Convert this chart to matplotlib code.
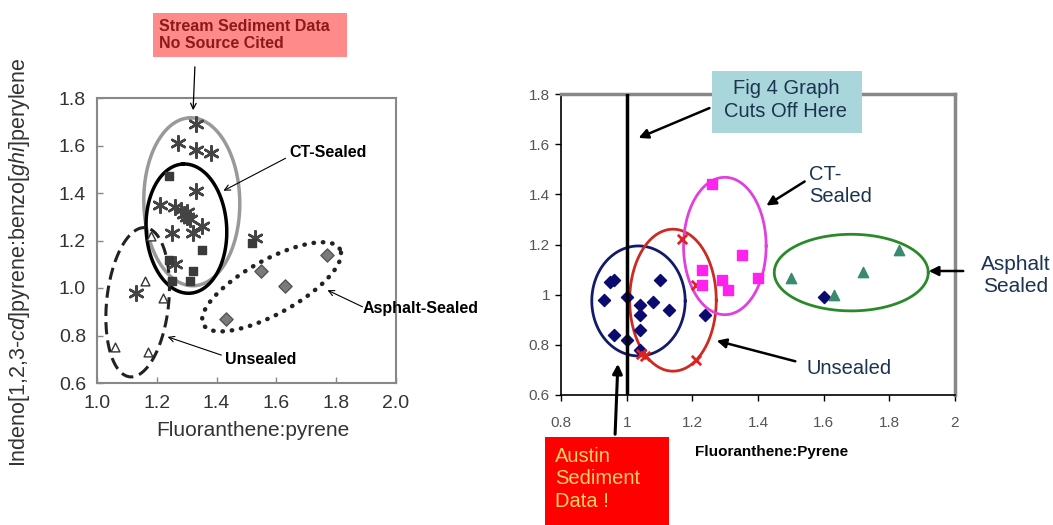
import numpy as np
import matplotlib
matplotlib.use("Agg")
import matplotlib.pyplot as plt
from matplotlib.patches import Rectangle

plt.rcParams['font.family'] = ['Liberation Sans', 'DejaVu Sans']
plt.rcParams['mathtext.fontset'] = 'custom'
plt.rcParams['mathtext.it'] = 'Liberation Sans:italic'
plt.rcParams['mathtext.rm'] = 'Liberation Sans'

# ---------------- left panel data (published figure) ----------------
stream_x = [1.33, 1.27, 1.33, 1.38, 1.33, 1.21, 1.26, 1.29, 1.31, 1.28, 1.30,
            1.35, 1.25, 1.32, 1.26, 1.13, 1.53, 1.30]
stream_y = [1.69, 1.61, 1.58, 1.57, 1.41, 1.35, 1.34, 1.31, 1.29, 1.33, 1.30,
            1.26, 1.23, 1.23, 1.10, 0.98, 1.21, 1.32]
ct_x = [1.24, 1.35, 1.24, 1.32, 1.31, 1.25, 1.52]
ct_y = [1.47, 1.16, 1.12, 1.07, 1.03, 1.03, 1.19]
unseal_x = [1.18, 1.16, 1.22, 1.06, 1.17]
unseal_y = [1.22, 1.03, 0.96, 0.75, 0.73]
asph_x = [1.55, 1.77, 1.63, 1.43]
asph_y = [1.07, 1.14, 1.01, 0.87]

# ---------------- right panel data (Austin sediment) ----------------
austin_x = [0.95, 0.96, 0.93, 1.00, 0.96, 1.00, 1.04, 1.04, 1.04, 1.04, 1.08,
            1.10, 1.13, 1.24, 1.60]
austin_y = [1.05, 1.06, 0.98, 0.99, 0.84, 0.82, 0.96, 0.92, 0.86, 0.78, 0.97,
            1.06, 0.94, 0.92, 0.99]
r_unseal_x = [1.17, 1.21, 1.055, 1.21, 1.045]
r_unseal_y = [1.22, 1.04, 0.755, 0.74, 0.765]
r_ct_x = [1.26, 1.35, 1.23, 1.23, 1.29, 1.31, 1.40]
r_ct_y = [1.44, 1.16, 1.10, 1.04, 1.06, 1.02, 1.065]
r_asph_x = [1.50, 1.63, 1.72, 1.83]
r_asph_y = [1.065, 1.00, 1.09, 1.18]

ticks_y = [0.6, 0.8, 1.0, 1.2, 1.4, 1.6, 1.8]
ticks_x_left = [1.0, 1.2, 1.4, 1.6, 1.8, 2.0]
ticks_x_right = [0.8, 1.0, 1.2, 1.4, 1.6, 1.8, 2.0]

W, H = 1053, 525
fig = plt.figure(figsize=(W / 100, H / 100), dpi=100)


def F(x, y):
    # pixel position from top-left -> figure fraction
    return (x / W, 1 - y / H)


def ellipse(ax, cx, cy, a, b, ang, **kw):
    # a, b semi-axes in pixels, ang in degrees on screen
    x0, x1 = ax.get_xlim()
    y0, y1 = ax.get_ylim()
    ppx = ax.bbox.width / (x1 - x0)
    ppy = ax.bbox.height / (y1 - y0)
    t = np.linspace(0, 2 * np.pi, 200)
    th = np.radians(ang)
    px = a * np.cos(t) * np.cos(th) - b * np.sin(t) * np.sin(th)
    py = a * np.cos(t) * np.sin(th) + b * np.sin(t) * np.cos(th)
    ax.plot(cx + px / ppx, cy + py / ppy, clip_on=False, **kw)


def arrow(p_from, p_to, style, lw, color='black', ms=10):
    fig.add_artist(matplotlib.patches.FancyArrowPatch(
        F(*p_from), F(*p_to), transform=fig.transFigure, arrowstyle=style,
        mutation_scale=ms, lw=lw, color=color))


# ================= left panel =================
ax1 = fig.add_axes([97 / W, 1 - 383 / H, 299 / W, 285 / H])
ax1.set_xlim(1.0, 2.0)
ax1.set_ylim(0.6, 1.8)
ax1.set_xticks(ticks_x_left)
ax1.set_xticklabels(["%.1f" % v for v in ticks_x_left])
ax1.set_yticks(ticks_y)
ax1.set_yticklabels(["%.1f" % v for v in ticks_y])
ax1.tick_params(direction='in', length=4, width=1, color='#888888',
                labelsize=14, labelcolor='#333333')
ax1.tick_params(axis='y', pad=8)
ax1.tick_params(axis='x', pad=9)
for s in ax1.spines.values():
    s.set_color('#888888')
    s.set_linewidth(1.5)

ax1.scatter(stream_x, stream_y, marker=(6, 2, 0), s=110, color='#444444',
            linewidths=1.8, zorder=3)
ax1.scatter(ct_x, ct_y, marker='s', s=40, color='#3a3a3a', zorder=3)
ax1.scatter(unseal_x, unseal_y, marker='^', s=40, facecolor='white',
            edgecolor='#333333', linewidths=1.0, zorder=3)
ax1.scatter(asph_x, asph_y, marker='D', s=45, color='#7a7a7a',
            edgecolor='#555555', linewidths=1.0, zorder=3)

ellipse(ax1, 1.317, 1.363, 84, 48, 91, color='#999999', lw=2.5)
ellipse(ax1, 1.299, 1.250, 64.7, 40.3, 93, color='black', lw=2.5)
ellipse(ax1, 1.136, 0.940, 75, 31, 84, color='#222222', lw=2.2,
        linestyle=(0, (4, 2)))
ellipse(ax1, 1.584, 1.005, 78, 27, 29, color='#222222', lw=3.2,
        linestyle=(0, (0.1, 2.0)), solid_capstyle='round',
        dash_capstyle='round')

fig.text(*F(20, 262), r"Indeno[1,2,3-$\mathit{cd}$]pyrene:benzo[$\mathit{ghi}$]perylene",
         rotation=90, ha='center', va='center', fontsize=15.5, color='#333333')
fig.text(*F(253, 430), "Fluoranthene:pyrene", ha='center', va='center',
         fontsize=15, color='#333333')

fig.add_artist(Rectangle(F(153, 57), 194 / W, 44 / H, transform=fig.transFigure,
                         facecolor='#ff8a8a', edgecolor='none'))
fig.text(*F(159, 35), "Stream Sediment Data\nNo Source Cited", ha='left',
         va='center', fontsize=11.5, fontweight='bold', color='#8b1a1a',
         linespacing=1.15)
arrow((195, 64), (193, 113), '->', 0.9)

fig.text(*F(289, 153), "CT-Sealed", ha='left', va='center', fontsize=11.5,
         fontweight='bold')
arrow((288, 157), (221, 192), '->', 0.8)
fig.text(*F(363, 308), "Asphalt-Sealed", ha='left', va='center', fontsize=11.5,
         fontweight='bold')
arrow((365, 308), (325, 289), '->', 0.8)
fig.text(*F(225, 360), "Unsealed", ha='left', va='center', fontsize=11.5,
         fontweight='bold')
arrow((224, 356), (165, 336), '->', 0.8)

# ================= right panel =================
ax2 = fig.add_axes([561 / W, 1 - 395 / H, 394 / W, 301 / H])
ax2.set_xlim(0.8, 2.0)
ax2.set_ylim(0.6, 1.8)
ax2.set_xticks(ticks_x_right)
ax2.set_xticklabels(["%g" % v for v in ticks_x_right])
ax2.set_yticks(ticks_y)
ax2.set_yticklabels(["%g" % v for v in ticks_y])
ax2.tick_params(direction='out', length=4, width=1, labelsize=11,
                labelcolor='#555555')
ax2.tick_params(axis='x', pad=11)
ax2.tick_params(axis='y', pad=4)
ax2.spines['left'].set_linewidth(1.2)
ax2.spines['bottom'].set_linewidth(1.2)
for k in ('top', 'right'):
    ax2.spines[k].set_color('#888888')
    ax2.spines[k].set_linewidth(2.5)

ax2.axvline(1.0, color='black', lw=2.5, zorder=4)
ax2.scatter(austin_x, austin_y, marker='D', s=38, color='#0a0a70', zorder=3)
ax2.scatter(r_unseal_x, r_unseal_y, marker='x', s=45, color='#dd2222',
            linewidths=2, zorder=3)
ax2.scatter(r_ct_x, r_ct_y, marker='s', s=55, color='#ff22ee', zorder=3)
ax2.scatter(r_asph_x, r_asph_y, marker='^', s=55, color='#3a8a70', zorder=3)

ellipse(ax2, 1.036, 0.975, 46.7, 55, 0, color='#141a6a', lw=2)
ellipse(ax2, 1.141, 0.978, 43.3, 71, 0, color='#cc2a22', lw=2)
ellipse(ax2, 1.299, 1.194, 41.3, 68.7, 0, color='#e040e0', lw=2)
ellipse(ax2, 1.684, 1.088, 77, 38.3, 0, color='#2a8a2a', lw=2)

fig.text(*F(772, 452), "Fluoranthene:Pyrene", ha='center', va='center',
         fontsize=11, fontweight='bold')

fig.add_artist(Rectangle(F(712, 133), 150 / W, 62 / H, transform=fig.transFigure,
                         facecolor='#a9d6da', edgecolor='none'))
fig.text(*F(786, 100), "Fig 4 Graph\nCuts Off Here", ha='center', va='center',
         fontsize=14.5, color='#1c3350', linespacing=1.25)
arrow((712, 107), (636, 139), '-|>', 1.8, ms=14)

fig.text(*F(809, 186), "CT-\nSealed", ha='left', va='center', fontsize=14.5,
         color='#1c3350', linespacing=1.2)
arrow((807, 180), (764, 207), '-|>', 1.8, ms=14)
fig.text(*F(1016, 275), "Asphalt\nSealed", ha='center', va='center',
         fontsize=15, color='#1c3350', linespacing=1.2)
arrow((966, 271), (926, 271), '-|>', 1.8, ms=14)
fig.text(*F(806, 368), "Unsealed", ha='left', va='center', fontsize=14.5,
         color='#1c3350')
arrow((798, 362), (714, 340), '-|>', 1.8, ms=14)

fig.add_artist(Rectangle(F(545, 525), 124 / W, 88 / H, transform=fig.transFigure,
                         facecolor='#ff0000', edgecolor='none'))
fig.text(*F(555, 479), "Austin\nSediment\nData !", ha='left', va='center',
         fontsize=14.5, color='#f7d26a', linespacing=1.25)
arrow((615, 437), (618, 361), '-|>', 2.2, ms=14)

fig.savefig("out.png", dpi=100)
